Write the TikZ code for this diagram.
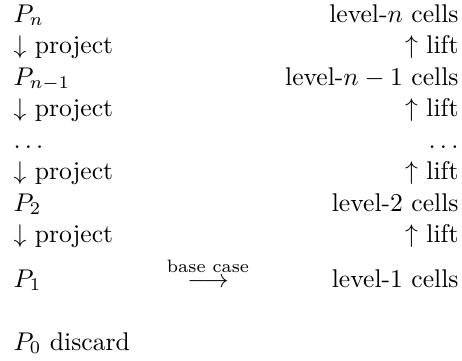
\documentclass[tikz,border=0pt]{standalone}
\usepackage{amsmath}
\begin{document}
\begin{tikzpicture}[x=0.390625pt,y=-0.390625pt,
  lt/.style={anchor=base west,inner sep=0pt},
  rt/.style={anchor=base east,inner sep=0pt},
  mid/.style={anchor=base,inner sep=0pt}]
\useasboundingbox (0,0) rectangle (462,360);
% left column
\node[lt] (pn)  at (13,22)    {$P_n$};
\node[lt] (pr1) at (13,53.5)  {$\downarrow$ project};
\node[lt] (pn1) at (13,85)    {$P_{n-1}$};
\node[lt] (pr2) at (13,116.5) {$\downarrow$ project};
\node[lt] (ld)  at (13,148)   {$\ldots$};
\node[lt] (pr3) at (13,179.5) {$\downarrow$ project};
\node[lt] (p2)  at (13,211)   {$P_2$};
\node[lt] (pr4) at (13,242.5) {$\downarrow$ project};
\node[lt] (p1)  at (13,287)   {$P_1$};
\node[lt] (p0)  at (13,350)   {$P_0$ discard};
% middle
\node[mid] (bc) at (208,287) {$\stackrel{\text{base case}}{\longrightarrow}$};
% right column
\node[rt] (cn)  at (459,22)    {level-$n$ cells};
\node[rt] (l1)  at (459,53.5)  {$\uparrow$ lift};
\node[rt] (cn1) at (459,85)    {level-$n-1$ cells};
\node[rt] (l2)  at (459,116.5) {$\uparrow$ lift};
\node[rt] (rd)  at (459,148)   {$\ldots$};
\node[rt] (l3)  at (459,179.5) {$\uparrow$ lift};
\node[rt] (c2)  at (459,211)   {level-2 cells};
\node[rt] (l4)  at (459,242.5) {$\uparrow$ lift};
\node[rt] (c1)  at (459,287)   {level-1 cells};
\end{tikzpicture}
\end{document}
